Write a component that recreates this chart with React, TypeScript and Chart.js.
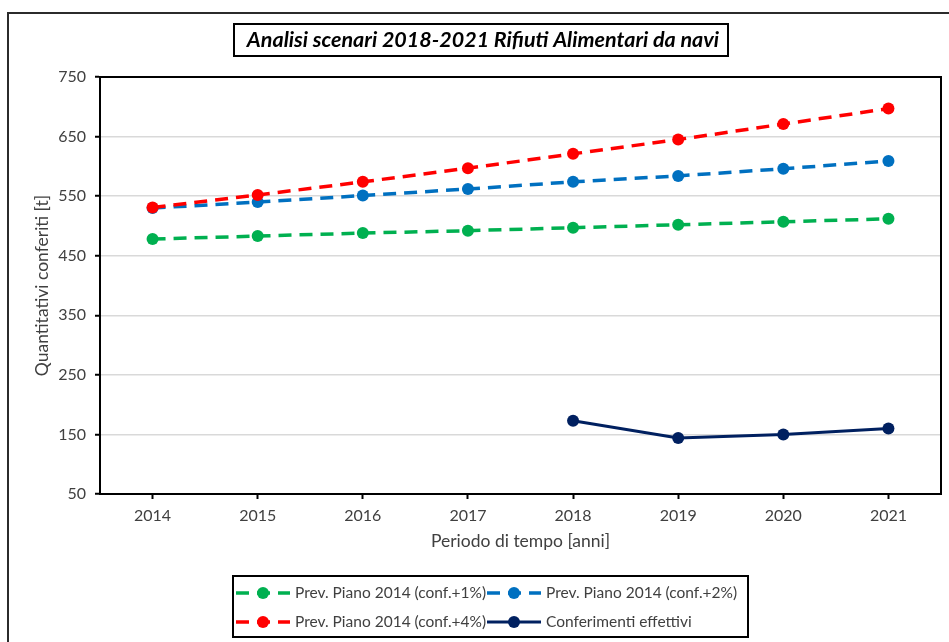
import React, { useEffect, useRef } from 'react';
import { Chart, registerables } from 'chart.js';

Chart.register(...registerables);

const years = ['2014', '2015', '2016', '2017', '2018', '2019', '2020', '2021'];
const prev1 = [478, 483, 488, 492, 497, 502, 507, 512];
const prev2 = [530, 540, 551, 562, 574, 584, 596, 609];
const prev4 = [531, 552, 574, 597, 621, 645, 671, 697];
const effettivi = [null, null, null, null, 173, 144, 150, 160];

const label1 = 'Prev. Piano 2014 (conf.+1%)';
const label2 = 'Prev. Piano 2014 (conf.+2%)';
const label4 = 'Prev. Piano 2014 (conf.+4%)';
const labelEff = 'Conferimenti effettivi';

const titleText = 'Analisi scenari 2018-2021 Rifiuti Alimentari da navi';
const xTitle = 'Periodo di tempo [anni]';
const yTitle = 'Quantitativi conferiti [t]';
const yMin = 50;
const yMax = 750;
const yStep = 100;

const FONT = 'Lato, "Open Sans", sans-serif';
const TEXT = '#404040';

const decorPlugin = {
  id: 'decor',
  beforeDraw(chart: any) {
    const ctx = chart.ctx;
    ctx.save();
    ctx.fillStyle = '#ffffff';
    ctx.fillRect(0, 0, chart.width, chart.height);
    ctx.strokeStyle = '#2b2b2b';
    ctx.lineWidth = 2;
    ctx.strokeRect(8, 13, 1000, 1000);
    ctx.restore();
  },
  afterDraw(chart: any) {
    const ctx = chart.ctx;
    const a = chart.chartArea;
    ctx.save();
    ctx.strokeStyle = '#000';
    ctx.lineWidth = 2;
    ctx.beginPath();
    ctx.moveTo(a.left, a.top);
    ctx.lineTo(a.right, a.top);
    ctx.lineTo(a.right, a.bottom);
    ctx.stroke();

    // title box
    ctx.strokeRect(234, 24, 494, 32);
    ctx.fillStyle = '#000';
    ctx.font = `italic bold 21.5px ${FONT}`;
    ctx.textAlign = 'center';
    ctx.textBaseline = 'middle';
    ctx.fillText(titleText, 483, 40);

    // legend box
    ctx.strokeRect(233, 576, 515, 61);
    const ds = chart.data.datasets;
    const find = (l: string) => ds.find((d: any) => d.label === l);
    const items = [
      { d: find(label1), x: 236, y: 593 },
      { d: find(label2), x: 487, y: 593 },
      { d: find(label4), x: 236, y: 622 },
      { d: find(labelEff), x: 487, y: 622 },
    ];
    items.forEach(({ d, x, y }) => {
      if (!d) return;
      ctx.save();
      ctx.strokeStyle = d.borderColor;
      ctx.lineWidth = d.borderWidth;
      ctx.setLineDash(d.borderDash || []);
      ctx.beginPath();
      ctx.moveTo(x, y);
      ctx.lineTo(x + 54, y);
      ctx.stroke();
      ctx.setLineDash([]);
      ctx.fillStyle = d.pointBackgroundColor;
      ctx.beginPath();
      ctx.arc(x + 27, y, 6, 0, Math.PI * 2);
      ctx.fill();
      ctx.fillStyle = TEXT;
      ctx.font = `15.5px ${FONT}`;
      ctx.textAlign = 'left';
      ctx.textBaseline = 'middle';
      ctx.fillText(d.label, x + 59, y);
      ctx.restore();
    });
    ctx.restore();
  },
};

function dashed(label: string, data: (number | null)[], color: string, order: number) {
  return {
    label,
    data,
    borderColor: color,
    backgroundColor: color,
    pointBackgroundColor: color,
    pointBorderColor: color,
    pointRadius: 6,
    pointBorderWidth: 0,
    borderWidth: 3.5,
    borderDash: [13, 8],
    tension: 0,
    order,
  };
}

export default function App() {
  const ref = useRef<HTMLCanvasElement | null>(null);
  useEffect(() => {
    if (!ref.current) return;
    const chart = new Chart(ref.current, {
      type: 'line',
      data: {
        labels: years,
        datasets: [
          dashed(label1, prev1, '#00B050', 2),
          dashed(label2, prev2, '#0070C0', 1),
          dashed(label4, prev4, '#FF0000', 0),
          {
            label: labelEff,
            data: effettivi,
            borderColor: '#002060',
            backgroundColor: '#002060',
            pointBackgroundColor: '#002060',
            pointBorderColor: '#002060',
            pointRadius: 6,
            pointBorderWidth: 0,
            borderWidth: 3,
            tension: 0,
            spanGaps: false,
            order: 3,
          } as any,
        ],
      },
      options: {
        animation: false,
        responsive: false,
        events: [],
        layout: { padding: { top: 77, right: 8, bottom: 88, left: 0 } },
        plugins: {
          legend: { display: false },
          title: { display: false },
          tooltip: { enabled: false },
        },
        scales: {
          x: {
            type: 'category',
            offset: true,
            grid: {
              offset: false,
              drawOnChartArea: false,
              drawTicks: true,
              tickLength: 5,
              tickColor: '#000',
              tickWidth: 2,
            },
            border: { color: '#000', width: 2 },
            ticks: { color: TEXT, font: { family: FONT, size: 16 }, padding: 7, maxRotation: 0 },
            title: {
              display: true,
              text: xTitle,
              color: TEXT,
              font: { family: FONT, size: 17.5 },
              padding: { top: 0, bottom: 2 },
            },
            afterFit: (s: any) => {
              s.height = 60;
            },
          },
          y: {
            min: yMin,
            max: yMax,
            ticks: {
              stepSize: yStep,
              color: TEXT,
              font: { family: FONT, size: 16 },
              padding: 9,
            },
            grid: {
              color: '#d9d9d9',
              lineWidth: 1.5,
              tickLength: 5,
              tickColor: '#000',
              tickWidth: 2,
            },
            border: { color: '#000', width: 2 },
            title: {
              display: true,
              text: yTitle,
              color: TEXT,
              font: { family: FONT, size: 17.5 },
              padding: { top: 32, bottom: 0 },
            },
            afterFit: (s: any) => {
              s.width = 100;
            },
          },
        },
      },
      plugins: [decorPlugin],
    });
    return () => chart.destroy();
  }, []);
  return (
    <div style={{ position: 'absolute', left: 0, top: 0, width: 949, height: 642 }}>
      <canvas ref={ref} width={949} height={642} style={{ display: 'block' }} />
    </div>
  );
}
